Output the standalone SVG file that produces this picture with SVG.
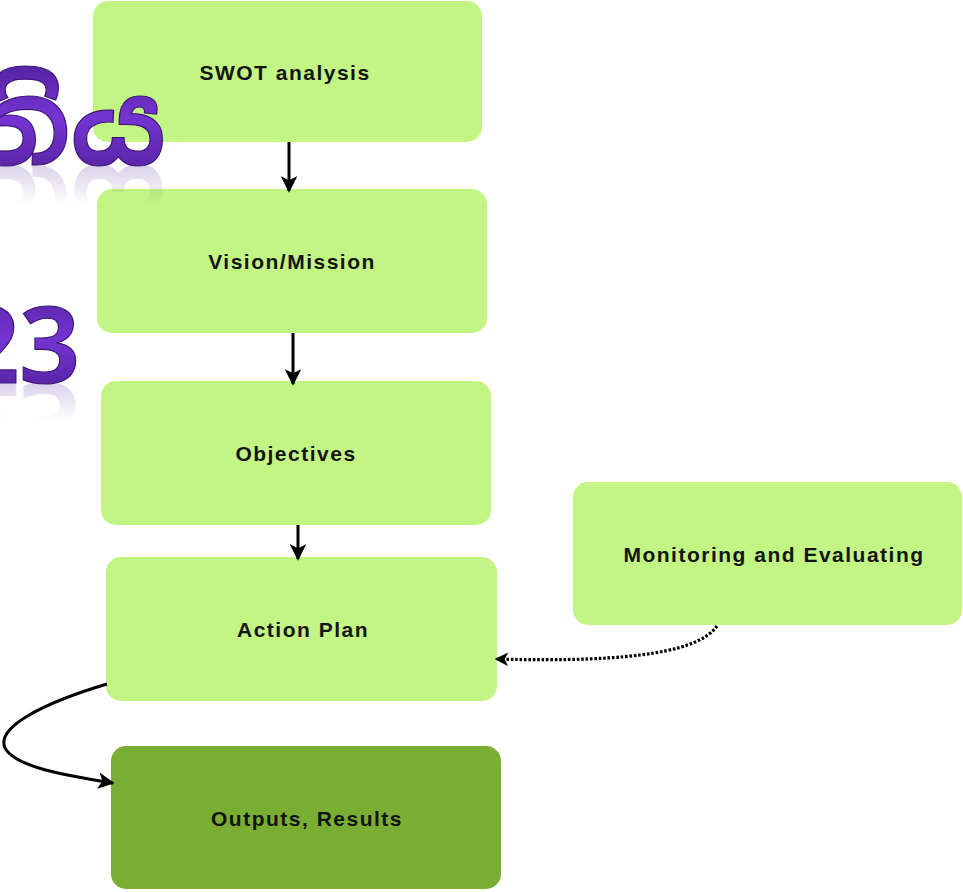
<svg xmlns="http://www.w3.org/2000/svg" xmlns:xlink="http://www.w3.org/1999/xlink" width="963" height="892" viewBox="0 0 963 892">
  <defs>
    <style>
      .box { fill: #c3f584; }
      .box-dark { fill: #79ae33; }
      .label { font-family: "Liberation Sans", Arial, sans-serif; font-size: 21px; font-weight: bold; letter-spacing: 1.5px; fill: #141414; text-anchor: middle; }
      .conn { fill: none; stroke: #000; stroke-width: 3; }
      .dotted { fill: none; stroke: #000; stroke-width: 3.2; stroke-dasharray: 2.6 1.8; }
      .big { font-family: "Noto Sans Sinhala", "Iskoola Pota", "DejaVu Sans", "Noto Sans", sans-serif; font-weight: bold; text-anchor: end; }
    </style>
    <linearGradient id="purple" x1="0" y1="0" x2="0" y2="1">
      <stop offset="0" stop-color="#4e1f95"/>
      <stop offset="0.45" stop-color="#7434d2"/>
      <stop offset="1" stop-color="#4a1d8c"/>
    </linearGradient>
    <linearGradient id="refl" x1="0" y1="0" x2="0" y2="1">
      <stop offset="0" stop-color="#5a2ca0" stop-opacity="0"/>
      <stop offset="0.5" stop-color="#5a2ca0" stop-opacity="0"/>
      <stop offset="1" stop-color="#5a2ca0" stop-opacity="0.4"/>
    </linearGradient>
    <marker id="arrow" viewBox="0 0 10 10" refX="9" refY="5" markerWidth="6.5" markerHeight="5.5" markerUnits="strokeWidth" orient="auto">
      <path d="M0,0 L10,5 L0,10 L2.5,5 z" fill="#000"/>
    </marker>
    <marker id="arrow-small" viewBox="0 0 10 10" refX="9" refY="5" markerWidth="5" markerHeight="4.2" markerUnits="strokeWidth" orient="auto">
      <path d="M0,0 L10,5 L0,10 L2.5,5 z" fill="#000"/>
    </marker>
    <text id="t-sinhala" class="big" x="166" y="165" font-size="112">තිය</text>
    <text id="t-year" class="big" x="80" y="383" font-size="106">23</text>
  </defs>

  <rect width="963" height="892" fill="#ffffff"/>

  <g id="node-swot">
    <rect class="box" x="93" y="1" width="389" height="141" rx="15"/>
    <text class="label" x="285" y="80">SWOT analysis</text>
  </g>
  <g id="node-vision">
    <rect class="box" x="97" y="189" width="390" height="144" rx="15"/>
    <text class="label" x="292" y="269">Vision/Mission</text>
  </g>
  <g id="node-objectives">
    <rect class="box" x="101" y="381" width="390" height="144" rx="15"/>
    <text class="label" x="296" y="461">Objectives</text>
  </g>
  <g id="node-action">
    <rect class="box" x="106" y="557" width="391" height="144" rx="15"/>
    <text class="label" x="303" y="637">Action Plan</text>
  </g>
  <g id="node-outputs">
    <rect class="box-dark" x="111" y="746" width="390" height="143" rx="15"/>
    <text class="label" x="307" y="826">Outputs, Results</text>
  </g>
  <g id="node-monitoring">
    <rect class="box" x="573" y="482" width="389" height="143" rx="15"/>
    <text class="label" x="774" y="562">Monitoring and Evaluating</text>
  </g>

  <g id="connectors">
    <line class="conn" x1="289" y1="142" x2="289" y2="191" marker-end="url(#arrow)"/>
    <line class="conn" x1="293" y1="333" x2="293" y2="384" marker-end="url(#arrow)"/>
    <line class="conn" x1="298" y1="525" x2="298" y2="559" marker-end="url(#arrow)"/>
    <path class="conn" d="M107,684 C40,704 -4,728 5,748 C16,768 70,776 113,783" marker-end="url(#arrow)"/>
    <path class="dotted" d="M717,626 C700,650 640,663 496,659" marker-end="url(#arrow-small)"/>
  </g>

  <g id="title-text">
    <use xlink:href="#t-sinhala" fill="url(#purple)" stroke="#3c1577" stroke-width="1.2"/>
    <use xlink:href="#t-sinhala" fill="url(#refl)" transform="translate(0,330) scale(1,-1)"/>
    <use xlink:href="#t-year" fill="url(#purple)" stroke="#3c1577" stroke-width="1.2"/>
    <use xlink:href="#t-year" fill="url(#refl)" transform="translate(0,766) scale(1,-1)"/>
  </g>
</svg>
